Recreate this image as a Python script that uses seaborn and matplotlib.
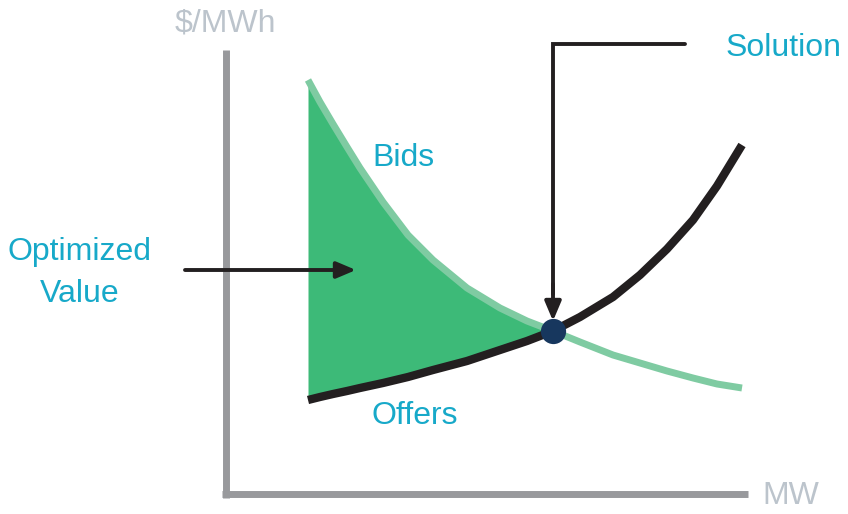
import numpy as np
import pandas as pd
import matplotlib.pyplot as plt
import seaborn as sns

# curve samples (MW, $/MWh in arbitrary diagram units)
mw = [82, 94, 107, 121, 134, 157, 182, 207, 241, 274, 301, 327,
      354, 387, 414, 441, 467, 491, 516]
bids = [414, 392, 370, 347, 326, 292, 259, 234, 206, 186, 173, 163,
        152, 139, 131, 123, 116, 110, 106]
offers = [94, 97, 100, 103, 106, 111, 117, 124, 133, 144, 153, 163,
          177, 197, 219, 245, 274, 308, 349]
solution = (327, 163)

TEXT = "#17a9c9"
AXIS_GRAY = "#98999c"
LABEL_GRAY = "#bcc4cc"
FILL = "#3dba78"
BID_LINE = "#7fcba2"
DARK = "#231f20"
NAVY = "#17375e"

sns.set_style("white")
plt.rcParams["font.family"] = ["Liberation Sans", "DejaVu Sans"]

df = pd.DataFrame({"MW": mw, "Bids": bids, "Offers": offers})

fig = plt.figure(figsize=(8.48, 5.14), dpi=100)
ax = fig.add_axes([0, 0, 1, 1])

# shaded optimized value between bids and offers, left of the solution
left = df[df["MW"] <= solution[0]]
ax.fill_between(left["MW"], left["Offers"], left["Bids"], color=FILL, lw=0, zorder=1)

sns.lineplot(data=df, x="MW", y="Bids", color=BID_LINE, lw=5, ax=ax, zorder=2)
sns.lineplot(data=df, x="MW", y="Offers", color=DARK, lw=6, ax=ax, zorder=3)
for ln in ax.lines[-2:]:
    ln.set_solid_capstyle("butt")
    ln.set_solid_joinstyle("round")

arrow_style = dict(arrowstyle="-|>,head_length=1.3,head_width=0.55",
                   color=DARK, lw=2.8, mutation_scale=9, shrinkA=0, shrinkB=0)

# solution callout arrow
ax.plot([459, 327, 327], [450, 450, 200], color=DARK, lw=2.8, zorder=4,
        solid_joinstyle="miter")
ax.annotate("", xy=(solution[0], solution[1] + 10), xytext=(solution[0], 210),
            arrowprops=arrow_style, zorder=4)
ax.scatter([solution[0]], [solution[1]], s=330, color=NAVY, zorder=5, lw=0)

# optimized value arrow
ax.annotate("", xy=(130, 224), xytext=(-41, 224), arrowprops=arrow_style, zorder=4)

# axes
for side in ["top", "right"]:
    ax.spines[side].set_visible(False)
ax.spines["left"].set_position(("data", 0))
ax.spines["bottom"].set_position(("data", 0))
ax.spines["left"].set_bounds(-3.5, 444)
ax.spines["bottom"].set_bounds(-3.5, 522)
for side in ["left", "bottom"]:
    ax.spines[side].set_color(AXIS_GRAY)
    ax.spines[side].set_linewidth(5)
    ax.spines[side].set_capstyle("butt")
ax.set_xticks([])
ax.set_yticks([])
ax.set_xlabel("")
ax.set_ylabel("")

fs = 23
ax.text(-1, 470, "$/MWh", color=LABEL_GRAY, fontsize=fs, ha="center", va="center")
ax.text(565, -2, "MW", color=LABEL_GRAY, fontsize=fs, ha="center", va="center")
ax.text(558, 446, "Solution", color=TEXT, fontsize=fs, ha="center", va="center")
ax.text(177, 336, "Bids", color=TEXT, fontsize=fs, ha="center", va="center")
ax.text(189, 78, "Offers", color=TEXT, fontsize=fs, ha="center", va="center")
ax.text(-146, 221, "Optimized\nValue", color=TEXT, fontsize=fs, ha="center",
        va="center", linespacing=1.5)

ax.set_xlim(-226, 622)
ax.set_ylim(-20, 494)

fig.savefig("out.png", dpi=100)
